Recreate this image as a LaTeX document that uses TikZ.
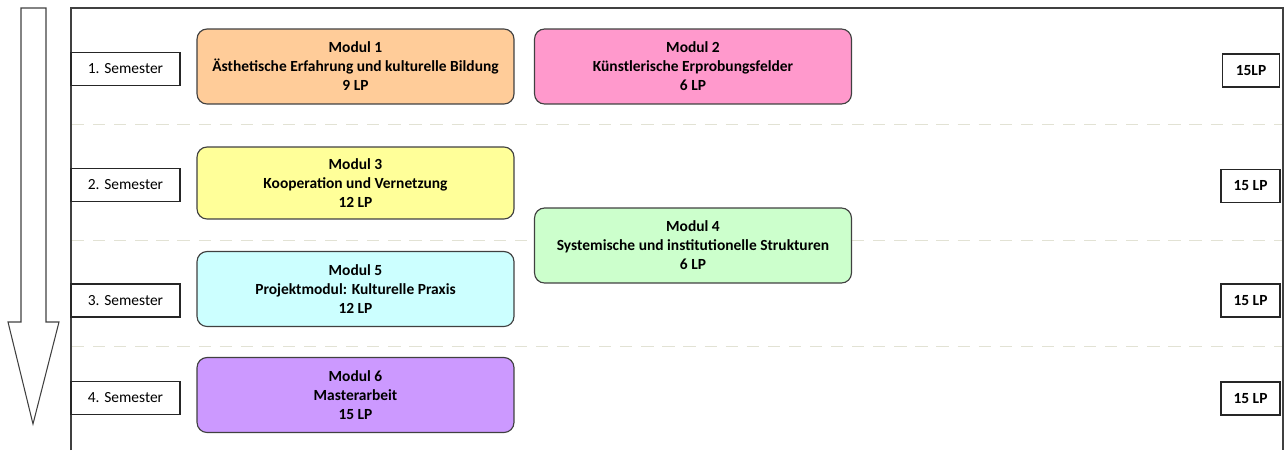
\documentclass[tikz,border=0pt]{standalone}
\usepackage{fontspec}
\setmainfont{Carlito}
\usepackage{xcolor}
\usepackage{tikz}
\definecolor{modorange}{RGB}{255,204,153}
\definecolor{modpink}{RGB}{255,153,204}
\definecolor{modyellow}{RGB}{255,255,153}
\definecolor{modgreen}{RGB}{204,255,204}
\definecolor{modcyan}{RGB}{204,255,255}
\definecolor{modlilac}{RGB}{204,153,255}
\definecolor{rimgray}{RGB}{64,64,64}
\definecolor{sepline}{RGB}{226,226,212}

\begin{document}
\begin{tikzpicture}[x=0.02cm, y=-0.02cm,
		modul/.style={draw=rimgray, line width=0.65pt, rounded corners=0.2cm, minimum width=6.34cm, minimum height=1.5cm, align=center, font=\fontsize{8.8}{10.8}\selectfont\bfseries},
		sembox/.style={draw=black!85, line width=0.6pt, minimum width=2.18cm, minimum height=0.66cm, font=\fontsize{8.8}{10.8}\selectfont},
		lpbox/.style={draw=black!85, line width=0.6pt, minimum width=1.14cm, minimum height=0.66cm, font=\fontsize{8.8}{10.8}\selectfont\bfseries}]
			\useasboundingbox (0,0) rectangle (1287,450);
			% frame and big arrow
			\draw[rimgray, line width=0.65pt] (71,450) -- (71,8) -- (1283,8) -- (1283,450);
			\draw[rimgray, line width=0.6pt] (21,8) -- (46,8) -- (46,322) -- (59,322) -- (33,424) -- (8,322) -- (21,322) -- cycle;
			\foreach \y in {124,240,346} {
				\draw[sepline, line width=0.45pt, dash pattern=on 7pt off 5pt] (72,\y) -- (1282,\y);
			}
			% semesters
			\node[sembox] (sem1) at (125.5,69) {1. Semester};
			\node[sembox] (sem2) at (125.5,185) {2. Semester};
			\node[sembox] (sem3) at (125.5,300.5) {3. Semester};
			\node[sembox] (sem4) at (125.5,398) {4. Semester};
			% modules
			\node[modul, fill=modorange] (mod1) at (355.5,66.5) {Modul 1\\Ästhetische Erfahrung und kulturelle Bildung\\9 LP};
			\node[modul, fill=modpink] (mod2) at (693,66.5) {Modul 2\\Künstlerische Erprobungsfelder\\6 LP};
			\node[modul, fill=modyellow, minimum height=1.44cm] (mod3) at (355.5,183) {Modul 3\\Kooperation und Vernetzung\\12 LP};
			\node[modul, fill=modgreen] (mod4) at (693,245.5) {Modul 4\\Systemische und institutionelle Strukturen\\6 LP};
			\node[modul, fill=modcyan] (mod5) at (355.5,289) {Modul 5\\Projektmodul: Kulturelle Praxis\\12 LP};
			\node[modul, fill=modlilac] (mod6) at (355.5,395) {Modul 6\\Masterarbeit\\15 LP};
			% credit points
			\node[lpbox] (lp1) at (1251,70.5) {15LP};
			\node[lpbox, minimum width=1.18cm] (lp2) at (1250.5,186) {15 LP};
			\node[lpbox, minimum width=1.18cm] (lp3) at (1250.5,300.5) {15 LP};
			\node[lpbox, minimum width=1.18cm] (lp4) at (1250.5,398.5) {15 LP};
		\end{tikzpicture}
\end{document}
